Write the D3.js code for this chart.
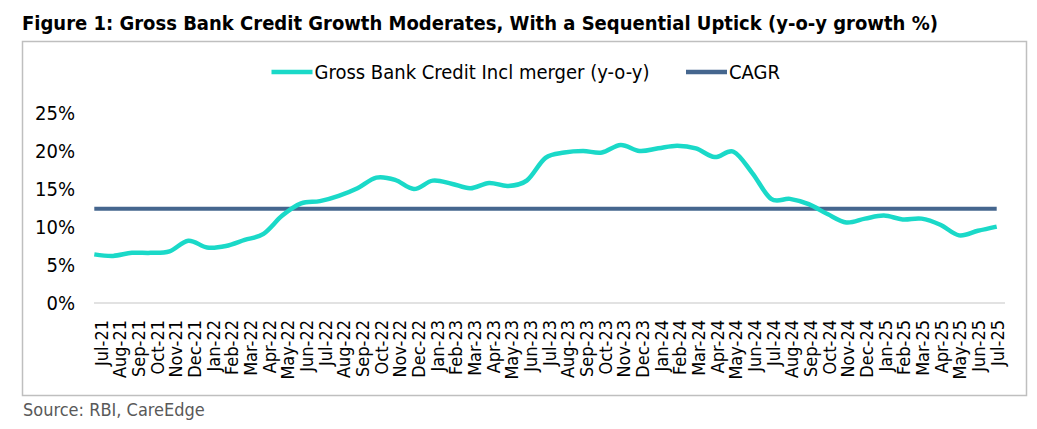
<!DOCTYPE html>
<html>
<head>
<meta charset="utf-8">
<script src="https://cdn.jsdelivr.net/npm/d3@7"></script>
<style>
  body { margin: 0; background: #fff; }
  text { font-family: "DejaVu Sans Condensed", "DejaVu Sans", sans-serif; }
</style>
</head>
<body>
<svg id="chart" width="1037" height="429"></svg>
<script>
// month labels, Jul-21 .. Jul-25
var months = ["Jul-21","Aug-21","Sep-21","Oct-21","Nov-21","Dec-21",
  "Jan-22","Feb-22","Mar-22","Apr-22","May-22","Jun-22","Jul-22","Aug-22","Sep-22","Oct-22","Nov-22","Dec-22",
  "Jan-23","Feb-23","Mar-23","Apr-23","May-23","Jun-23","Jul-23","Aug-23","Sep-23","Oct-23","Nov-23","Dec-23",
  "Jan-24","Feb-24","Mar-24","Apr-24","May-24","Jun-24","Jul-24","Aug-24","Sep-24","Oct-24","Nov-24","Dec-24",
  "Jan-25","Feb-25","Mar-25","Apr-25","May-25","Jun-25","Jul-25"];

// gross bank credit incl merger, y-o-y %
var creditGrowth = [6.4, 6.2, 6.6, 6.6, 6.8, 8.2,
  7.3, 7.5, 8.3, 9.1, 11.5, 13.1, 13.4, 14.1, 15.1, 16.5, 16.2, 15.0,
  16.1, 15.7, 15.1, 15.8, 15.4, 16.1, 19.1, 19.8, 20.0, 19.8, 20.8, 20.0,
  20.35, 20.7, 20.35, 19.2, 19.9, 17.1, 13.7, 13.7, 13.0, 11.7, 10.6, 11.1,
  11.5, 11.0, 11.1, 10.3, 8.9, 9.5, 10.05];

var cagr = 12.4;
var yTicks = [0, 5, 10, 15, 20, 25];

var seriesNames = ["Gross Bank Credit Incl merger (y-o-y)", "CAGR"];
var seriesColors = ["#1AD9C8", "#45668E"];

var svg = d3.select("#chart");

// title
svg.append("text")
  .attr("x", 22).attr("y", 30)
  .style("font-size", "20px").style("font-weight", "bold")
  .style("fill", "#000")
  .text("Figure 1: Gross Bank Credit Growth Moderates, With a Sequential Uptick (y-o-y growth %)");

// chart frame
svg.append("rect")
  .attr("x", 22.5).attr("y", 41.5)
  .attr("width", 1004).attr("height", 354)
  .style("fill", "none").style("stroke", "#BFBFBF").style("stroke-width", 1.5);

var x = d3.scalePoint().domain(months).range([94.3, 996.7]);
var xLabel = d3.scalePoint().domain(months).range([101, 997]);
var y = d3.scaleLinear().domain([0, 25]).range([303, 113]);

// zero gridline
svg.append("line")
  .attr("x1", 94).attr("x2", 1005)
  .attr("y1", y(0)).attr("y2", y(0))
  .style("stroke", "#D9D9D9").style("stroke-width", 1.5);

// y axis labels
var yAxis = d3.axisLeft(y).tickValues(yTicks).tickSize(0).tickPadding(0)
  .tickFormat(function(d) { return d + "%"; });
svg.append("g")
  .attr("transform", "translate(75,0)")
  .call(yAxis)
  .call(function(g) { g.select(".domain").remove(); })
  .selectAll("text")
    .style("font-size", "20px").style("fill", "#000")
    .style("font-family", "'DejaVu Sans Condensed','DejaVu Sans',sans-serif");

// x axis labels, rotated
var xAxis = d3.axisBottom(xLabel).tickSize(0).tickPadding(0);
svg.append("g")
  .attr("transform", "translate(0,320)")
  .call(xAxis)
  .call(function(g) { g.select(".domain").remove(); })
  .selectAll("text")
    .attr("transform", "rotate(-90)")
    .attr("x", 0).attr("y", 0).attr("dy", "0.35em")
    .style("text-anchor", "end")
    .style("font-size", "18px").style("fill", "#000")
    .style("font-family", "'DejaVu Sans Condensed','DejaVu Sans',sans-serif");

// CAGR line
svg.append("line")
  .attr("x1", x(months[0])).attr("x2", x(months[months.length - 1]))
  .attr("y1", y(cagr)).attr("y2", y(cagr))
  .style("stroke", seriesColors[1]).style("stroke-width", 4);

// credit growth line (smoothed like Excel)
var line = d3.line()
  .x(function(d, i) { return x(months[i]); })
  .y(function(d) { return y(d); })
  .curve(d3.curveCardinal.tension(0));

svg.append("path")
  .datum(creditGrowth)
  .attr("d", line)
  .style("fill", "none")
  .style("stroke", seriesColors[0])
  .style("stroke-width", 4.5)
  .style("stroke-linejoin", "round");

// legend
var legendX = [271.5, 686];
var legend = svg.selectAll(".legend")
  .data(seriesNames)
  .enter().append("g")
    .attr("class", "legend")
    .attr("transform", function(d, i) { return "translate(" + legendX[i] + ",72)"; });
legend.append("line")
  .attr("x1", 0).attr("x2", 41)
  .style("stroke", function(d, i) { return seriesColors[i]; })
  .style("stroke-width", 4.5);
legend.append("text")
  .attr("x", 43).attr("dy", "0.35em")
  .style("font-size", "20px").style("fill", "#000")
  .text(function(d) { return d; });

// source
svg.append("text")
  .attr("x", 23).attr("y", 416)
  .style("font-size", "18px").style("fill", "#595959")
  .text("Source: RBI, CareEdge");
</script>
</body>
</html>
